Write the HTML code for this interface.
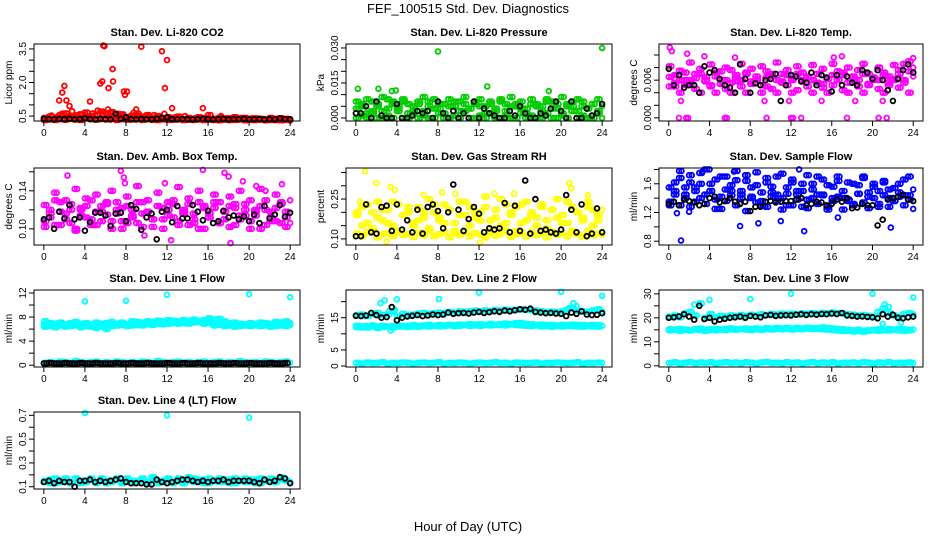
<!DOCTYPE html>
<html><head><meta charset="utf-8">
<style>
html,body{margin:0;padding:0;background:#fff;}
svg{display:block;font-family:"Liberation Sans",sans-serif;}
</style></head>
<body>
<svg id="chart" width="936" height="540" viewBox="0 0 936 540" xmlns="http://www.w3.org/2000/svg">
<rect width="936" height="540" fill="#fff"/>
<text x="468" y="13" text-anchor="middle" font-size="13">FEF_100515  Std. Dev. Diagnostics</text>
<text x="468" y="531" text-anchor="middle" font-size="13">Hour of Day (UTC)</text>
<g id="panels"></g>
</svg>
<script>
const HA=[0,0.5,1,1.5,2,2.5,3,3.5,4,4.5,5,5.5,6,6.5,7,7.5,8,8.5,9,9.5,10,10.5,11,11.5,12,12.5,13,13.5,14,14.5,15,15.5,16,16.5,17,17.5,18,18.5,19,19.5,20,20.5,21,21.5,22,22.5,23,23.5,24];
const HB=[0.25,0.75,1.25,1.75,2.25,2.75,3.25,3.75,4.25,4.75,5.25,5.75,6.25,6.75,7.25,7.75,8.25,8.75,9.25,9.75,10.25,10.75,11.25,11.75,12.25,12.75,13.25,13.75,14.25,14.75,15.25,15.75,16.25,16.75,17.25,17.75,18.25,18.75,19.25,19.75,20.25,20.75,21.25,21.75,22.25,22.75,23.25,23.75];
const xTicks=[0,4,8,12,16,20,24];

const co2RedA=[0.42,0.48,0.38,0.55,0.62,0.5,0.45,0.58,0.66,0.5,0.55,0.7,0.62,0.68,0.5,0.58,0.45,0.52,0.6,0.48,0.55,0.42,0.5,0.38,0.45,0.4,0.48,0.35,0.42,0.38,0.45,0.4,0.55,0.38,0.42,0.36,0.4,0.45,0.38,0.42,0.36,0.4,0.38,0.35,0.42,0.38,0.4,0.36,0.34];
const co2RedB=[0.35,0.52,0.45,0.6,0.48,0.72,0.55,0.4,0.5,0.62,0.75,0.58,0.8,0.48,0.6,0.52,0.44,0.65,0.5,0.42,0.48,0.55,0.4,0.6,0.36,0.44,0.38,0.5,0.34,0.4,0.36,0.42,0.38,0.34,0.5,0.4,0.36,0.38,0.42,0.34,0.4,0.36,0.38,0.34,0.4,0.36,0.34,0.38];
const co2RedC=[0.32,0.35,0.33,0.36,0.34,0.38,0.35,0.33,0.4,0.36,0.34,0.37,0.35,0.38,0.33,0.36,0.34,0.35,0.37,0.33,0.36,0.34,0.32,0.35,0.33,0.34,0.36,0.32,0.34,0.33,0.35,0.32,0.34,0.33,0.31,0.34,0.32,0.33,0.35,0.31,0.33,0.32,0.34,0.31,0.33,0.32,0.31,0.33,0.3];
const co2OutHours=[1.5,1.8,2.0,2.2,4.5,5.5,5.7,5.8,5.9,6.3,6.7,6.75,7.8,7.9,8.1,9.5,11.5,11.8,12.0,2.5,9.0,12.5,15.5];
const co2OutVals=[1.2,1.55,1.85,1.2,1.15,1.95,2.05,3.65,3.62,1.75,2.6,2.05,1.6,1.45,1.6,3.6,3.4,1.75,3.0,0.95,0.8,0.85,0.85];
const co2Black=[0.38,0.36,0.35,0.37,0.36,0.38,0.35,0.36,0.4,0.37,0.35,0.38,0.36,0.35,0.6,0.38,0.45,0.36,0.35,0.37,0.36,0.35,0.38,0.42,0.45,0.36,0.35,0.37,0.36,0.35,0.36,0.38,0.37,0.35,0.36,0.38,0.35,0.37,0.36,0.38,0.35,0.36,0.37,0.35,0.36,0.35,0.4,0.37,0.36];

const prA=[0.007,0.005,0.008,0.003,0.006,0.009,0.004,0.007,0.005,0.008,0.006,0.003,0.007,0.009,0.005,0.008,0.004,0.006,0.008,0.005,0.007,0.009,0.004,0.006,0.008,0.005,0.007,0.003,0.008,0.006,0.009,0.005,0.007,0.004,0.008,0.006,0.005,0.008,0.007,0.004,0.009,0.006,0.005,0.008,0.007,0.004,0.006,0.008,0.005];
const prB=[0.004,0.006,0.002,0.007,0.005,0.003,0.008,0.006,0.004,0.007,0.002,0.005,0.006,0.003,0.007,0.004,0.006,0.002,0.005,0.007,0.003,0.006,0.004,0.007,0.005,0.002,0.006,0.004,0.007,0.003,0.005,0.006,0.004,0.002,0.006,0.005,0.003,0.007,0.004,0.006,0.002,0.005,0.007,0.003,0.005,0.004,0.006,0.003];
const prC=[0,0.001,0,0.002,0,0,0.001,0,0.003,0,0,0.002,0,0.001,0,0,0.002,0,0,0.001,0,0.003,0,0,0.001,0,0.002,0,0,0.001,0,0,0.002,0,0.001,0,0,0.002,0,0,0.001,0,0.003,0,0.001,0,0,0.002,0];
const prOutHours=[0.2,2.2,3.5,3.9,8.0,12.8,18.8,24.0];
const prOutVals=[0.0125,0.0125,0.0115,0.0118,0.0285,0.0135,0.0115,0.0300];
const prBlack=[0.002,0.002,0.005,0,0.007,0.001,0,0,0.006,0,0,0.001,0.003,0.002,0.003,0,0.007,0.002,0,0.003,0,0.002,0,0.007,0,0.004,0.002,0.001,0,0,0.003,0.001,0.005,0.002,0,0,0.002,0.001,0.004,0.007,0.003,0,0.007,0,0,0.004,0.001,0.002,0.006];

const tpA=[0.0082,0.0068,0.0075,0.006,0.0088,0.007,0.0078,0.0065,0.0085,0.0072,0.006,0.008,0.0076,0.0064,0.0086,0.007,0.0078,0.0062,0.0082,0.0074,0.0066,0.0088,0.007,0.0076,0.006,0.0082,0.0072,0.0066,0.0084,0.007,0.0078,0.0062,0.0086,0.0074,0.0068,0.008,0.0064,0.0076,0.0086,0.007,0.0064,0.008,0.0072,0.0066,0.0084,0.0076,0.0086,0.009,0.008];
const tpB=[0.005,0.0056,0.004,0.0052,0.006,0.0046,0.004,0.0058,0.005,0.004,0.0054,0.0046,0.004,0.0058,0.005,0.004,0.0054,0.006,0.004,0.005,0.0046,0.004,0.0058,0.0052,0.004,0.0044,0.006,0.005,0.004,0.0056,0.0048,0.004,0.0052,0.006,0.0044,0.004,0.0056,0.005,0.004,0.0054,0.006,0.0046,0.004,0.0052,0.006,0.0048,0.0056,0.004];
const tpC=[0.0065,0.005,0.006,0.0072,0.0055,0.0063,0.007,0.006,0.0052,0.0066,0.0074,0.006,0.0056,0.0068,0.006,0.0072,0.0058,0.0066,0.0052,0.0064,0.007,0.006,0.0056,0.0068,0.0062,0.007,0.0058,0.0064,0.006,0.007,0.0054,0.0062,0.0068,0.006,0.0072,0.0056,0.0066,0.006,0.007,0.0052,0.0064,0.006,0.0068,0.0056,0.0062,0.007,0.006,0.0074,0.0066];
const tpOutHours=[1.0,1.7,1.9,5.5,5.7,9.6,12.0,12.2,13.0,17.5,20.6,21.4,0.1,0.3,1.8,3.5,6.5,17.0,16.2,24.0,1.2,9.4,11.8,15.0,18.3,21.0];
const tpOutVals=[0,0,0,0,0,0,0,0,0,0,0,0,0.0112,0.0106,0.0102,0.0098,0.0096,0.0098,0.0096,0.0095,0.0027,0.0027,0.0027,0.0027,0.0027,0.0027];
const tpBlack=[0.0078,0.0052,0.0068,0.0048,0.0052,0.0052,0.004,0.0082,0.0072,0.0076,0.0062,0.0052,0.0048,0.004,0.0085,0.0062,0.004,0.0055,0.0052,0.006,0.0062,0.007,0.0027,0.0052,0.0068,0.0066,0.0058,0.0056,0.0072,0.0052,0.0068,0.0064,0.0042,0.0068,0.0052,0.0066,0.0056,0.0052,0.0076,0.0072,0.0062,0.0076,0.006,0.0044,0.0027,0.0062,0.0076,0.0085,0.0072];

const abA=[0.125,0.112,0.138,0.118,0.13,0.106,0.142,0.12,0.132,0.11,0.136,0.124,0.115,0.14,0.128,0.108,0.134,0.12,0.145,0.116,0.13,0.11,0.138,0.122,0.128,0.112,0.144,0.118,0.132,0.106,0.14,0.124,0.116,0.136,0.128,0.11,0.134,0.122,0.14,0.114,0.13,0.118,0.142,0.12,0.108,0.136,0.126,0.112,0.13];
const abB=[0.108,0.12,0.13,0.104,0.116,0.126,0.1,0.122,0.112,0.13,0.104,0.118,0.128,0.108,0.12,0.1,0.124,0.114,0.106,0.128,0.118,0.102,0.124,0.11,0.12,0.13,0.104,0.116,0.126,0.11,0.1,0.122,0.112,0.128,0.106,0.118,0.124,0.104,0.114,0.126,0.108,0.12,0.1,0.13,0.112,0.122,0.106,0.118];
const abC=[0.102,0.116,0.104,0.128,0.11,0.12,0.098,0.114,0.124,0.104,0.118,0.108,0.126,0.1,0.116,0.122,0.106,0.112,0.128,0.102,0.118,0.11,0.124,0.1,0.114,0.126,0.108,0.12,0.104,0.116,0.128,0.1,0.112,0.122,0.106,0.118,0.102,0.126,0.11,0.12,0.1,0.114,0.124,0.104,0.118,0.108,0.128,0.102,0.106];
const abOutHours=[2.3,7.5,7.8,11.8,15.5,17.6,18.2,19.4,7.9,20.7,21.6,23.2,9.8,12.4,18.0];
const abOutVals=[0.156,0.161,0.154,0.148,0.162,0.159,0.085,0.15,0.148,0.145,0.14,0.147,0.093,0.088,0.155];
const abBlack=[0.11,0.112,0.1,0.118,0.111,0.125,0.11,0.112,0.098,0.107,0.117,0.117,0.114,0.103,0.116,0.117,0.108,0.125,0.121,0.099,0.112,0.116,0.089,0.118,0.12,0.107,0.124,0.111,0.111,0.125,0.118,0.109,0.119,0.106,0.108,0.119,0.112,0.114,0.11,0.113,0.108,0.115,0.106,0.124,0.111,0.115,0.125,0.113,0.117];

const rhA=[0.12,0.11,0.125,0.13,0.105,0.118,0.122,0.11,0.128,0.115,0.12,0.108,0.124,0.113,0.13,0.11,0.118,0.126,0.106,0.12,0.115,0.128,0.11,0.122,0.116,0.105,0.125,0.112,0.12,0.13,0.108,0.118,0.124,0.11,0.126,0.114,0.12,0.106,0.128,0.115,0.122,0.11,0.125,0.118,0.108,0.13,0.114,0.12,0.116];
const rhB=[0.19,0.22,0.16,0.2,0.24,0.17,0.21,0.15,0.23,0.19,0.2,0.16,0.22,0.18,0.25,0.2,0.17,0.23,0.21,0.16,0.24,0.19,0.22,0.18,0.2,0.26,0.17,0.21,0.15,0.23,0.19,0.22,0.16,0.24,0.2,0.18,0.23,0.17,0.21,0.25,0.19,0.16,0.22,0.2,0.18,0.24,0.21,0.17];
const rhC=[0.2,0.15,0.23,0.14,0.18,0.21,0.16,0.24,0.13,0.19,0.22,0.15,0.17,0.2,0.14,0.23,0.18,0.16,0.21,0.13,0.19,0.24,0.15,0.2,0.17,0.22,0.14,0.18,0.25,0.16,0.2,0.13,0.23,0.17,0.19,0.15,0.22,0.14,0.21,0.18,0.16,0.24,0.13,0.2,0.17,0.22,0.15,0.19,0.21];
const rhOutHours=[0.9,2.0,3.4,3.8,6.6,8.4,9.7,13.5,15.4,20.8,21.0,22.6,0.4,12.1,3.0];
const rhOutVals=[0.355,0.31,0.295,0.285,0.265,0.275,0.27,0.27,0.27,0.31,0.29,0.265,0.24,0.085,0.09];
const rhBlack=[0.11,0.11,0.23,0.125,0.12,0.22,0.225,0.13,0.23,0.135,0.17,0.125,0.21,0.12,0.22,0.23,0.205,0.14,0.2,0.305,0.21,0.13,0.175,0.22,0.195,0.125,0.14,0.135,0.14,0.235,0.125,0.225,0.13,0.32,0.12,0.25,0.13,0.135,0.125,0.12,0.135,0.265,0.21,0.125,0.23,0.11,0.12,0.215,0.125];

const sfA=[1.55,1.45,1.68,1.4,1.62,1.5,1.75,1.45,1.6,1.38,1.7,1.52,1.44,1.65,1.5,1.72,1.42,1.58,1.36,1.62,1.48,1.7,1.4,1.55,1.66,1.45,1.6,1.38,1.52,1.7,1.44,1.58,1.4,1.64,1.5,1.36,1.6,1.46,1.68,1.42,1.56,1.5,1.62,1.4,1.54,1.48,1.66,1.44,1.52];
const sfB=[1.35,1.5,1.3,1.45,1.28,1.55,1.4,1.32,1.5,1.25,1.42,1.36,1.5,1.3,1.45,1.22,1.4,1.34,1.48,1.28,1.42,1.36,1.24,1.46,1.3,1.38,1.5,1.26,1.4,1.32,1.45,1.28,1.36,1.42,1.24,1.38,1.3,1.46,1.34,1.26,1.4,1.32,1.44,1.28,1.36,1.42,1.3,1.38];
const sfC=[1.3,1.62,1.78,1.55,1.72,1.35,1.6,1.8,1.5,1.66,1.25,1.7,1.58,1.78,1.4,1.64,1.55,1.76,1.3,1.68,1.56,1.45,1.74,1.3,1.62,1.5,1.28,1.72,1.6,1.45,1.66,1.24,1.56,1.7,1.4,1.62,1.32,1.58,1.7,1.48,1.6,1.28,1.64,1.52,1.36,1.6,1.44,1.7,1.25];
const sfOutHours=[1.2,7.0,8.8,11.0,13.3,16.6,21.8,0.8,2.0,4.0,12.8,3.3,6.4];
const sfOutVals=[0.81,1.01,1.05,1.08,0.94,1.13,0.99,1.19,1.21,1.8,1.8,1.77,1.77];
const sfBlack=[1.32,1.35,1.3,1.38,1.36,1.34,1.3,1.32,1.4,1.42,1.34,1.36,1.4,1.35,1.32,1.35,1.22,1.28,1.28,1.35,1.36,1.34,1.35,1.36,1.36,1.38,1.4,1.3,1.32,1.35,1.34,1.3,1.32,1.38,1.35,1.4,1.26,1.27,1.32,1.3,1.3,1.02,1.1,1.38,1.4,1.42,1.45,1.38,1.36];

const l1A=[7.3,7.0,6.9,7.1,6.8,7.0,7.2,6.9,7.0,6.8,7.1,6.9,7.0,7.2,6.9,7.1,6.7,7.3,7.2,7.1,7.3,7.2,7.4,7.3,7.5,7.4,7.3,7.5,7.4,7.6,7.4,7.5,7.8,7.6,7.7,7.3,7.0,7.1,6.9,6.8,7.0,6.9,7.1,7.0,6.9,7.2,7.1,7.3,7.0];
const l1B=[6.4,6.5,6.3,6.6,6.4,6.5,6.6,6.3,6.5,6.4,6.2,6.4,6.0,6.5,6.6,6.7,6.5,6.6,6.7,6.6,6.8,6.7,6.9,6.8,6.9,7.0,6.9,7.0,6.9,7.1,7.2,6.9,7.0,6.6,6.7,6.5,6.6,6.4,6.5,6.6,6.5,6.6,6.5,6.6,6.4,6.5,6.6,6.5];
const l1C=[6.7,6.8,6.6,6.9,6.7,6.6,6.8,6.7,6.8,6.6,6.5,6.9,6.7,6.8,6.6,6.9,6.8,6.9,7.0,6.9,7.0,7.1,7.0,7.2,7.1,7.0,7.2,7.1,7.3,7.2,7.3,7.1,7.2,7.0,6.9,6.8,6.7,6.8,6.6,6.7,6.8,6.7,6.9,6.8,6.7,6.8,6.9,6.8,6.7];
const l1Low=[0.4,0.5,0.4,0.6,0.5,0.4,0.7,0.5,0.4,0.5,0.6,0.4,0.5,0.4,0.6,0.5,0.4,0.5,0.4,0.6,0.5,0.4,0.7,0.5,0.4,0.5,0.6,0.4,0.5,0.4,0.5,0.6,0.4,0.5,0.6,0.4,0.5,0.4,0.7,0.5,0.4,0.5,0.4,0.6,0.5,0.4,0.5,0.6,0.4];
const l1Black=[0.3,0.35,0.3,0.3,0.35,0.3,0.3,0.35,0.3,0.3,0.35,0.3,0.3,0.3,0.35,0.3,0.3,0.35,0.3,0.3,0.35,0.3,0.3,0.3,0.35,0.3,0.3,0.35,0.3,0.3,0.35,0.3,0.3,0.3,0.35,0.3,0.3,0.35,0.3,0.3,0.35,0.3,0.3,0.3,0.35,0.3,0.3,0.35];
const l1OutHours=[4.0,8.0,12.0,20.0,24.0];
const l1OutVals=[10.6,10.7,11.7,11.8,11.3];

const l2Up=[15.8,16.0,15.5,16.2,16.5,15.8,16.0,17.0,15.5,16.2,15.8,16.0,16.3,16.5,16.2,16.4,16.6,16.5,16.8,16.6,17.0,16.8,17.0,17.2,17.0,17.3,17.1,17.4,17.2,17.5,17.3,17.5,17.6,17.4,17.3,17.2,17.0,16.8,16.9,16.7,17.0,17.5,18.0,17.2,17.0,16.8,17.3,17.6,17.0];
const l2Mid=[12.5,12.0,12.4,12.6,12.3,12.5,12.2,12.4,12.6,12.3,12.5,12.7,12.4,12.6,12.8,12.5,12.7,12.6,12.8,12.7,12.9,12.8,13.0,12.9,13.0,12.8,13.1,12.9,13.0,13.2,13.0,13.3,13.4,13.1,13.0,12.8,12.9,12.7,12.8,12.6,12.8,12.7,12.9,12.8,12.7,12.6,12.8,12.7,12.5];
const l2Mid2=[12.1,12.3,12.0,12.2,11.8,12.1,12.3,12.0,12.2,12.4,12.1,12.3,12.2,12.4,12.3,12.5,12.3,12.4,12.6,12.4,12.5,12.7,12.5,12.6,12.5,12.7,12.6,12.8,12.7,12.6,12.9,12.7,12.6,12.5,12.4,12.6,12.3,12.4,12.2,12.4,12.3,12.5,12.4,12.3,12.2,12.4,12.3,12.2];
const l2Low=[1.0,0.8,1.1,0.9,1.0,1.2,0.8,1.0,0.9,1.1,1.0,0.8,1.0,1.1,0.9,1.0,1.2,0.8,1.0,0.9,1.1,1.0,0.8,1.0,1.1,0.9,1.0,1.2,0.9,1.0,0.8,1.1,1.0,0.9,1.0,1.1,0.8,1.0,0.9,1.1,1.0,0.9,1.0,1.2,0.8,1.0,0.9,1.1,1.0];
const l2Black=[15.6,15.5,15.7,16.5,15.8,15.0,15.2,18.3,14.2,15.0,15.4,15.6,15.8,15.5,15.7,16.0,15.8,16.0,16.6,16.2,16.4,16.5,16.3,16.6,16.8,16.5,16.7,17.0,16.8,17.2,17.0,17.3,17.6,17.5,17.8,16.8,16.6,16.4,16.5,16.3,16.2,15.5,16.6,16.2,17.0,16.0,15.8,15.9,16.4];
const l2OutHours=[2.4,2.8,3.2,3.8,4.0,8.1,12.0,20.0,21.2,21.5,24.0,3.4,20.8];
const l2OutVals=[19.5,20.4,17.0,17.5,20.7,20.8,22.8,23.0,19.5,18.6,21.8,11.0,18.0];

const l3Up=[20.5,21.0,20.2,22.0,22.5,21.0,26.0,20.0,21.5,20.3,20.8,20.5,21.0,20.7,21.2,20.8,21.3,21.0,21.5,21.2,21.6,21.4,21.8,21.5,21.7,21.4,21.9,21.6,22.0,21.8,22.1,21.9,22.2,22.0,21.8,21.5,21.3,21.0,21.2,20.8,20.5,22.5,24.0,22.0,21.0,20.5,21.5,22.0,21.5];
const l3Mid=[15.2,15.0,15.4,15.1,14.8,15.3,15.5,15.0,15.2,15.4,15.1,15.3,15.6,15.2,15.4,15.5,15.3,15.6,15.4,15.7,15.5,15.8,15.6,15.7,15.5,15.8,15.6,15.9,15.7,15.8,16.0,15.7,15.6,15.4,15.2,15.0,14.8,15.0,14.6,14.8,14.9,15.2,15.0,15.3,15.1,15.4,15.2,15.0,15.1];
const l3Mid2=[14.8,15.1,14.6,15.0,14.7,15.2,14.9,14.6,15.0,14.8,15.1,14.9,15.2,15.0,15.3,15.1,14.9,15.2,15.0,15.3,15.1,15.4,15.2,15.3,15.1,15.4,15.2,15.5,15.3,15.4,15.2,15.1,14.9,14.7,14.5,14.6,14.3,14.5,14.2,14.6,14.8,14.6,14.9,14.7,15.0,14.8,14.6,14.8];
const l3Low=[1.2,1.5,1.0,1.3,1.6,1.1,1.4,1.2,1.5,1.0,1.3,1.6,1.2,1.4,1.1,1.5,1.3,1.0,1.4,1.6,1.2,1.3,1.1,1.5,1.2,1.4,1.0,1.3,1.6,1.1,1.4,1.2,1.5,1.0,1.3,1.2,1.4,1.1,1.5,1.3,1.0,1.4,1.2,1.6,1.1,1.3,1.2,1.4,1.1];
const l3Black=[20.0,20.2,20.6,21.5,20.5,19.2,25.0,19.5,20.0,18.5,19.2,19.6,20.0,20.2,20.5,20.0,20.8,20.5,20.2,21.0,21.2,20.8,21.0,21.1,21.0,21.3,21.5,21.2,21.5,21.3,21.6,21.5,21.8,21.6,22.0,21.0,20.8,20.5,20.6,20.4,20.2,19.8,21.5,20.5,21.3,20.0,19.8,20.2,20.5];
const l3OutHours=[2.5,3.0,4.0,8.0,12.0,20.0,21.2,21.6,24.0,21.0,22.8];
const l3OutVals=[25.5,26.0,27.5,27.8,30.0,30.0,25.5,24.5,28.5,17.5,18.0];

const l4A=[0.15,0.13,0.17,0.14,0.16,0.13,0.17,0.15,0.14,0.16,0.13,0.17,0.15,0.14,0.16,0.13,0.17,0.15,0.14,0.16,0.13,0.18,0.15,0.14,0.16,0.13,0.17,0.15,0.18,0.14,0.16,0.13,0.17,0.15,0.14,0.16,0.13,0.17,0.15,0.14,0.16,0.13,0.17,0.15,0.14,0.16,0.18,0.15,0.14];
const l4B=[0.14,0.16,0.13,0.15,0.17,0.14,0.16,0.13,0.15,0.17,0.14,0.16,0.13,0.15,0.17,0.14,0.16,0.13,0.15,0.17,0.14,0.16,0.13,0.15,0.17,0.14,0.16,0.13,0.15,0.17,0.14,0.16,0.13,0.15,0.17,0.14,0.16,0.13,0.15,0.17,0.14,0.16,0.13,0.15,0.17,0.14,0.16,0.15];
const l4Black=[0.14,0.15,0.13,0.15,0.14,0.14,0.1,0.15,0.15,0.16,0.14,0.15,0.14,0.15,0.16,0.17,0.14,0.13,0.13,0.13,0.12,0.12,0.16,0.14,0.13,0.14,0.15,0.16,0.16,0.15,0.14,0.15,0.14,0.15,0.15,0.16,0.14,0.15,0.15,0.15,0.15,0.14,0.13,0.16,0.14,0.15,0.18,0.17,0.13];
const l4OutHours=[4,12,20];
const l4OutVals=[0.72,0.70,0.68];

const RED='#ff0000',GRN='#00cd00',MAG='#ff00ff',YEL='#ffff00',BLU='#0000ff',CYA='#00ffff',BLK='#000000';
const panels=[
 {name:'co2',title:'Stan. Dev. Li-820 CO2',ylab:'Licor ppm',col:0,row:0,dom:[0.28,3.72],ticks:[0.5,1,1.5,2,2.5,3,3.5],labels:['0.5','','','2.0','','','3.5'],
  series:[[HA,co2RedC,RED],[HB,co2RedC,RED],[HB,co2RedB,RED],[HA,co2RedA,RED],[HB,co2RedA,RED],[co2OutHours,co2OutVals,RED],[HA,co2Black,BLK]]},
 {name:'pressure',title:'Stan. Dev. Li-820 Pressure',ylab:'kPa',col:1,row:0,dom:[-0.0013,0.0317],ticks:[0,0.005,0.01,0.015,0.02,0.025,0.03],labels:['0.000','','','0.015','','','0.030'],
  series:[[HA,prC,GRN],[HB,prC,GRN],[HB,prB,GRN],[HA,prB,GRN],[HA,prA,GRN],[HB,prA,GRN],[prOutHours,prOutVals,GRN],[HA,prBlack,BLK]]},
 {name:'li820-temp',title:'Stan. Dev. Li-820 Temp.',ylab:'degrees C',col:2,row:0,dom:[-0.0005,0.01175],ticks:[0,0.002,0.004,0.006,0.008,0.01],labels:['0.000','','','0.006','',''],
  series:[[HA,tpC,MAG],[HB,tpC,MAG],[HB,tpB,MAG],[HA,tpB,MAG],[HA,tpA,MAG],[HB,tpA,MAG],[tpOutHours,tpOutVals,MAG],[HA,tpBlack,BLK]]},
 {name:'amb-box-temp',title:'Stan. Dev. Amb. Box Temp.',ylab:'degrees C',col:0,row:1,dom:[0.083,0.164],ticks:[0.1,0.12,0.14,0.16],labels:['0.10','','0.14',''],
  series:[[HA,abC,MAG],[HB,abC,MAG],[HB,abB,MAG],[HA,abB,MAG],[HA,abA,MAG],[HB,abA,MAG],[abOutHours,abOutVals,MAG],[HA,abBlack,BLK]]},
 {name:'gas-rh',title:'Stan. Dev. Gas Stream RH',ylab:'percent',col:1,row:1,dom:[0.077,0.367],ticks:[0.1,0.15,0.2,0.25,0.3,0.35],labels:['0.10','','','0.25','',''],
  series:[[HA,rhA,YEL],[HB,rhA,YEL],[HB,rhB,YEL],[HA,rhB,YEL],[HA,rhC,YEL],[HB,rhC,YEL],[rhOutHours,rhOutVals,YEL],[HA,rhBlack,BLK]]},
 {name:'sample-flow',title:'Stan. Dev. Sample Flow',ylab:'ml/min',col:2,row:1,dom:[0.747,1.82],ticks:[0.8,1.0,1.2,1.4,1.6,1.8],labels:['0.8','','1.2','','1.6',''],
  series:[[HA,sfC,BLU],[HB,sfC,BLU],[HB,sfB,BLU],[HA,sfB,BLU],[HA,sfA,BLU],[HB,sfA,BLU],[sfOutHours,sfOutVals,BLU],[HA,sfBlack,BLK]]},
 {name:'line1-flow',title:'Stan. Dev. Line 1 Flow',ylab:'ml/min',col:0,row:2,dom:[-0.3,12.5],ticks:[0,2,4,6,8,10,12],labels:['0','','4','','8','','12'],
  series:[[HA,l1A,CYA],[HB,l1A,CYA],[HB,l1B,CYA],[HA,l1B,CYA],[HA,l1C,CYA],[HB,l1C,CYA],[HA,l1Low,CYA],[HB,l1Low,CYA],[l1OutHours,l1OutVals,CYA],[HB,l1Black,BLK],[HA,l1Black,BLK]]},
 {name:'line2-flow',title:'Stan. Dev. Line 2 Flow',ylab:'ml/min',col:1,row:2,dom:[-0.3,23.6],ticks:[0,5,10,15,20],labels:['0','5','','15',''],
  series:[[HA,l2Up,CYA],[HB,l2Up,CYA],[HA,l2Mid,CYA],[HB,l2Mid,CYA],[HB,l2Mid2,CYA],[HA,l2Mid2,CYA],[HA,l2Low,CYA],[HB,l2Low,CYA],[l2OutHours,l2OutVals,CYA],[HA,l2Black,BLK]]},
 {name:'line3-flow',title:'Stan. Dev. Line 3 Flow',ylab:'ml/min',col:2,row:2,dom:[-0.5,31.6],ticks:[0,5,10,15,20,25,30],labels:['0','','10','','20','','30'],
  series:[[HA,l3Up,CYA],[HB,l3Up,CYA],[HA,l3Mid,CYA],[HB,l3Mid,CYA],[HB,l3Mid2,CYA],[HA,l3Mid2,CYA],[HA,l3Low,CYA],[HB,l3Low,CYA],[l3OutHours,l3OutVals,CYA],[HA,l3Black,BLK]]},
 {name:'line4-flow',title:'Stan. Dev. Line 4 (LT) Flow',ylab:'ml/min',col:0,row:3,dom:[0.081,0.728],ticks:[0.1,0.2,0.3,0.4,0.5,0.6,0.7],labels:['0.1','','0.3','','0.5','','0.7'],
  series:[[HA,l4A,CYA],[HB,l4A,CYA],[HB,l4B,CYA],[HA,l4B,CYA],[l4OutHours,l4OutVals,CYA],[HA,l4Black,BLK]]}
];
const colX=[34,346,659], colW=[266,266,264], rowY=[44,168,290,412], rowH=77;
const NS='http://www.w3.org/2000/svg';
const root=document.getElementById('panels');
function mk(tag,attrs,parent){const e=document.createElementNS(NS,tag);for(const k in attrs)e.setAttribute(k,attrs[k]);parent.appendChild(e);return e;}
panels.forEach(p=>{
  const L=colX[p.col],W=colW[p.col],T=rowY[p.row],B=T+rowH;
  const xs=h=>L+(h+0.96)/25.92*W;
  const ys=v=>B-(v-p.dom[0])/(p.dom[1]-p.dom[0])*rowH;
  const g=mk('g',{},root);
  
  
  const t=mk('text',{x:L+W/2,y:T-8,'text-anchor':'middle','font-size':11,'font-weight':'bold'},g);
  
  
  t.textContent=p.title;
  const yl=mk('text',{x:0,y:0,'text-anchor':'middle','font-size':10,transform:`translate(${L-22},${T+rowH/2}) rotate(-90)`},g);
  
  
  yl.textContent=p.ylab;
  const marks=mk('g',{fill:'none','stroke-width':1.8},g);
  
  
  p.series.forEach(s=>{
    const hrs=s[0],vals=s[1];
    for(let i=0;i<vals.length&&i<hrs.length;i++){
      const c=mk('circle',{cx:xs(hrs[i]).toFixed(1),cy:ys(vals[i]).toFixed(1),r:2.4,stroke:s[2]},marks);
      
      
    }
  });
  const box=mk('rect',{x:L,y:T,width:W,height:rowH,fill:'none',stroke:'#000','stroke-width':1},g);
  
  
  const ax=mk('g',{stroke:'#000','stroke-width':1},g);
  
  
  mk('line',{x1:xs(xTicks[0]),x2:xs(xTicks[xTicks.length-1]),y1:B,y2:B},ax);
  xTicks.forEach(h=>{
    mk('line',{x1:xs(h),x2:xs(h),y1:B,y2:B+5},ax);
    const tl=mk('text',{x:xs(h),y:B+15,'text-anchor':'middle','font-size':10,stroke:'none',fill:'#000'},ax);
    
    
    tl.textContent=String(h);
  });
  const ay=mk('g',{stroke:'#000','stroke-width':1},g);
  
  
  mk('line',{x1:L,x2:L,y1:ys(p.ticks[0]),y2:ys(p.ticks[p.ticks.length-1])},ay);
  p.ticks.forEach((v,i)=>{
    const y=ys(v);
    mk('line',{x1:L-5,x2:L,y1:y,y2:y},ay);
    if(p.labels[i]){
      const tl=mk('text',{x:0,y:0,'text-anchor':'middle','font-size':10,stroke:'none',fill:'#000',transform:`translate(${L-8},${y}) rotate(-90)`},ay);
      
      
      tl.textContent=p.labels[i];
    }
  });
});
</script>
</body></html>
